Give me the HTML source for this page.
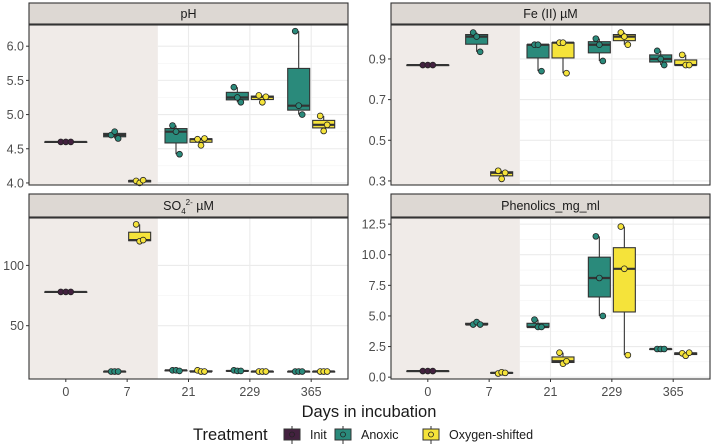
<!DOCTYPE html>
<html><head><meta charset="utf-8"><style>
body{margin:0;background:#fff;}
svg{display:block;font-family:"Liberation Sans",sans-serif;}
</style></head><body>
<svg id="chart" width="711" height="447"></svg>
<script>
const categories=["0","7","21","229","365"];
const groups=["Init","Anoxic","Oxygen-shifted"];
const colors={"Init":"#43213f","Anoxic":"#2a8a7b","Oxygen-shifted":"#f5e33a"};
// values per panel: [category][group] -> 3 replicate points (null = absent)
const phVals=[[[4.6,4.6,4.6],null,null],[null,[4.7,4.75,4.65],[4.03,4.0,4.04]],[null,[4.84,4.75,4.42],[4.64,4.55,4.65]],[null,[5.4,5.25,5.18],[5.28,5.18,5.26]],[null,[6.22,5.13,5.0],[4.98,4.76,4.85]]];
const feVals=[[[0.87,0.87,0.87],null,null],[null,[1.03,1.01,0.935],[0.35,0.31,0.34]],[null,[0.97,0.97,0.84],[0.98,0.98,0.83]],[null,[1.0,0.97,0.89],[1.03,1.01,0.97]],[null,[0.94,0.9,0.87],[0.92,0.87,0.87]]];
const so4Vals=[[[78,78,78],null,null],[null,[12,12,12],[134,120,121]],[null,[13,13,12.5],[13,12,12]],[null,[13,12.5,12.5],[12,12,12]],[null,[12,12,12],[12,12,12]]];
const phenVals=[[[0.5,0.5,0.5],null,null],[null,[4.3,4.5,4.3],[0.3,0.4,0.35]],[null,[4.7,4.1,4.1],[2.0,1.1,1.3]],[null,[11.5,8.1,5.0],[12.3,8.85,1.8]],[null,[2.3,2.3,2.3],[1.95,1.75,2.0]]];
const phTicks=[4.0,4.5,5.0,5.5,6.0];
const feTicks=[0.3,0.5,0.7,0.9];
const so4Ticks=[50,100];
const phenTicks=[0.0,2.5,5.0,7.5,10.0,12.5];

const NS="http://www.w3.org/2000/svg";
const svg=document.getElementById('chart');
function mk(tag,attrs,parent){const e=document.createElementNS(NS,tag);for(const k in attrs)e.setAttribute(k,attrs[k]);(parent||svg).appendChild(e);return e;}
function q(arr,p){const s=[...arr].sort((a,b)=>a-b);const h=(s.length-1)*p;const lo=Math.floor(h);return s[lo]+(h-lo)*((s[lo+1]??s[lo])-s[lo]);}

const panels=[
 {title:"pH",vals:phVals,ticks:phTicks,fmt:v=>v.toFixed(1),x0:29,y0:25,y1:185,vlo:3.97,vhi:6.31,strip:[3,24],name:"ph-panel"},
 {title:"Fe (II) µM",vals:feVals,ticks:feTicks,fmt:v=>v.toFixed(1),x0:391,y0:25,y1:185,vlo:0.28,vhi:1.067,strip:[3,24],name:"fe-panel"},
 {title:"SO4",vals:so4Vals,ticks:so4Ticks,fmt:v=>String(v),x0:29,y0:218,y1:379,vlo:5.8,vhi:139.3,strip:[194,217],name:"so4-panel"},
 {title:"Phenolics_mg_ml",vals:phenVals,ticks:phenTicks,fmt:v=>v.toFixed(1),x0:391,y0:218,y1:379,vlo:-0.15,vhi:13.0,strip:[194,217],name:"phenolics-panel"}
];
const PW=319,step=PW/5.2;
panels.forEach((p,pi)=>{
 const g=mk('g',{});
 
 
 const xS=i=>p.x0+(0.6+i)*step;
 const yS=v=>p.y1-(v-p.vlo)/(p.vhi-p.vlo)*(p.y1-p.y0);
 mk('rect',{x:p.x0,y:p.y0,width:PW,height:p.y1-p.y0,fill:'#fff'},g);
 const sh=mk('rect',{x:p.x0,y:p.y0,width:(xS(1)+xS(2))/2-p.x0,height:p.y1-p.y0,fill:'#f0ebe8'},g);
 
 
 const minor=[];
 for(let i=0;i<p.ticks.length-1;i++)minor.push((p.ticks[i]+p.ticks[i+1])/2);
 const xs0=(xS(1)+xS(2))/2;
 minor.forEach(v=>mk('line',{x1:xs0,x2:p.x0+PW,y1:yS(v),y2:yS(v),stroke:'#f3f3f3','stroke-width':0.6},g));
 p.ticks.forEach(v=>mk('line',{x1:xs0,x2:p.x0+PW,y1:yS(v),y2:yS(v),stroke:'#ebebeb','stroke-width':1.1},g));
 categories.forEach((c,i)=>{if(i>=2)mk('line',{x1:xS(i),x2:xS(i),y1:p.y0,y2:p.y1,stroke:'#ebebeb','stroke-width':1.1},g);});
 p.vals.forEach((cat,i)=>{
  const present=cat.map((d,gi)=>d?gi:-1).filter(x=>x>=0);
  present.forEach((gi,k)=>{
   const d=cat[gi];
   const n=present.length;
   const w=n===1?42:22;
   const cx=n===1?xS(i):xS(i)+(k===0?-12.5:12.5);
   const q1=q(d,0.25),q3=q(d,0.75),md=q(d,0.5),mn=Math.min(...d),mx=Math.max(...d);
   const bg=mk('g',{},g);
   
   
   mk('line',{x1:cx,x2:cx,y1:yS(q3),y2:yS(mx),stroke:'#333','stroke-width':1.1},bg);
   mk('line',{x1:cx,x2:cx,y1:yS(q1),y2:yS(mn),stroke:'#333','stroke-width':1.1},bg);
   mk('rect',{x:cx-w/2,y:yS(q3),width:w,height:Math.max(0.5,yS(q1)-yS(q3)),fill:colors[groups[gi]],stroke:'#333','stroke-width':1.1},bg);
   mk('line',{x1:cx-w/2,x2:cx+w/2,y1:yS(md),y2:yS(md),stroke:'#333','stroke-width':2.2},bg);
   const offs=n===1?[-5,0,5]:[-3.5,0,3.5];
   d.forEach((v,j)=>{
    const pt=mk('circle',{cx:cx+offs[j],cy:yS(v),r:2.9,fill:colors[groups[gi]],stroke:'#222','stroke-width':0.8},bg);
    
    
   });
  });
 });
 mk('rect',{x:p.x0,y:p.y0,width:PW,height:p.y1-p.y0,fill:'none',stroke:'#333','stroke-width':1.1},g);
 const st=mk('rect',{x:p.x0,y:p.strip[0],width:PW,height:p.strip[1]-p.strip[0],fill:'#ddd8d3',stroke:'#333','stroke-width':1.1},g);
 
 
 const tt=mk('text',{x:p.x0+PW/2,y:(p.strip[0]+p.strip[1])/2+4.5,'text-anchor':'middle','font-size':12.5,fill:'#1a1a1a'},g);
 
 
 if(p.title==="SO4"){tt.innerHTML='SO<tspan font-size="8" dy="4">4</tspan><tspan font-size="8" dy="-9">2-</tspan><tspan dy="5">  µM</tspan>';}
 else tt.textContent=p.title;
 p.ticks.forEach(v=>{
  mk('line',{x1:p.x0-3,x2:p.x0,y1:yS(v),y2:yS(v),stroke:'#333','stroke-width':1},g);
  const t=mk('text',{x:p.x0-5,y:yS(v)+4.5,'text-anchor':'end','font-size':12.5,fill:'#4d4d4d'},g);
  t.textContent=p.fmt(v);
  
  
 });
 if(pi>=2){
  categories.forEach((c,i)=>{
   mk('line',{x1:xS(i),x2:xS(i),y1:p.y1,y2:p.y1+3,stroke:'#333','stroke-width':1},g);
   const t=mk('text',{x:xS(i),y:p.y1+17,'text-anchor':'middle','font-size':12.5,fill:'#4d4d4d'},g);
   t.textContent=c;
   
   
  });
 }
});
const xt=mk('text',{x:369,y:417,'text-anchor':'middle','font-size':16.5,fill:'#1a1a1a'});
xt.textContent='Days in incubation';


const lg=mk('g',{});


const lt=mk('text',{x:193,y:440,'font-size':16.5,fill:'#1a1a1a'},lg);
lt.textContent='Treatment';
const keys=[[284,302,"Init"],[335,353,"Anoxic"],[423,441,"Oxygen-shifted"]];
keys.forEach((k,i)=>{
 const e=mk('g',{},lg);
 
 
 mk('line',{x1:k[0]+8,x2:k[0]+8,y1:426,y2:444,stroke:'#333','stroke-width':1},e);
 mk('rect',{x:k[0],y:429,width:16,height:11,fill:colors[groups[i]],stroke:'#333','stroke-width':1},e);
 mk('circle',{cx:k[0]+8,cy:434.5,r:2.5,fill:colors[groups[i]],stroke:'#222','stroke-width':0.8},e);
 const t=mk('text',{x:k[1]+8,y:439,'font-size':12.5,fill:'#1a1a1a'},e);
 t.textContent=k[2];
});
</script>
</body></html>
